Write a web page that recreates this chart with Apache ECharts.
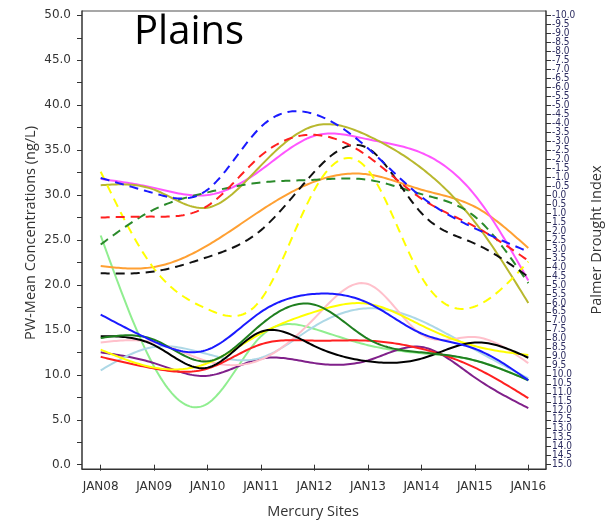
<!DOCTYPE html>
<html>
<head>
<meta charset="utf-8">
<script src="https://cdn.jsdelivr.net/npm/echarts@6/dist/echarts.min.js"></script>
<style>
  html, body { margin: 0; padding: 0; background: #ffffff; }
  #chart { width: 616px; height: 528px; }
</style>
</head>
<body>
<div id="chart"></div>
<script>
// Sampling dates
const sites = ['JAN08', 'JAN09', 'JAN10', 'JAN11', 'JAN12', 'JAN13', 'JAN14', 'JAN15', 'JAN16'];

// Dashed series
const blueDash   = [31.9, 30.2, 30.6, 37.6, 39.0, 35.2, 29.8, 26.3, 23.7];
const redDash    = [27.5, 27.6, 28.8, 34.4, 36.7, 34.3, 29.6, 26.5, 22.7];
const blackDash  = [21.3, 21.5, 23.1, 26.1, 32.6, 35.2, 28.0, 24.6, 20.9];
const greenDash  = [24.5, 28.4, 30.3, 31.4, 31.7, 31.7, 30.1, 27.6, 20.2];
const yellowDash = [32.6, 21.8, 17.3, 18.4, 30.6, 32.8, 20.9, 17.6, 22.6];

// Upper solid series
const olive   = [31.1, 30.6, 28.6, 33.3, 37.7, 36.6, 33.0, 27.0, 18.0];
const magenta = [31.8, 30.8, 30.0, 32.8, 36.6, 36.2, 34.7, 30.0, 20.5];
const orange  = [22.1, 22.0, 24.4, 28.3, 31.5, 32.3, 30.6, 28.7, 24.1];

// Lower solid series
const blue       = [16.7, 13.7, 12.8, 17.0, 19.0, 18.0, 14.6, 12.9, 9.4];
const green      = [14.1, 13.9, 11.5, 15.6, 17.8, 14.0, 12.5, 11.6, 9.4];
const black      = [14.3, 13.3, 10.8, 14.8, 13.2, 11.5, 11.8, 13.6, 11.9];
const yellow     = [12.8, 10.8, 11.3, 14.6, 17.0, 17.9, 15.5, 13.2, 12.2];
const red        = [12.0, 10.7, 10.7, 13.4, 13.8, 13.8, 12.9, 10.8, 7.4];
const pink       = [13.6, 13.6, 11.5, 11.7, 16.3, 20.1, 14.5, 14.2, 11.3];
const lightBlue  = [10.5, 13.1, 12.3, 11.9, 15.4, 17.4, 16.0, 12.8, 9.6];
const purple     = [12.5, 11.3, 9.9, 11.8, 11.3, 11.6, 13.1, 9.7, 6.3];
const lightGreen = [25.5, 10.9, 6.8, 14.3, 15.1, 13.3, 12.4, 11.6, 9.4];

// Left axis range
const leftTicks = { min: 0, max: 50, step: 5 };

// Palmer Drought Index tick labels, top to bottom
const pdsiLabels = [
  '-10.0', '-9.5', '-9.0', '-8.5', '-8.0', '-7.5', '-7.0', '-6.5', '-6.0', '-5.5',
  '-5.0', '-4.5', '-4.0', '-3.5', '-3.0', '-2.5', '-2.0', '-1.5', '-1.0', '-0.5',
  '0.0', '0.5', '1.0', '1.5', '2.0', '2.5', '3.0', '3.5', '4.0', '4.5',
  '5.0', '5.5', '6.0', '6.5', '7.0', '7.5', '8.0', '8.5', '9.0', '9.5',
  '10.0', '10.5', '11.0', '11.5', '12.0', '12.5', '13.0', '13.5', '14.0', '14.5', '15.0'
];

const lineDefs = [
  { name: 'Light green', data: lightGreen, color: '#90ee90', dash: false },
  { name: 'Purple', data: purple, color: '#80208a', dash: false },
  { name: 'Light blue', data: lightBlue, color: '#add8e6', dash: false },
  { name: 'Pink', data: pink, color: '#ffc0cb', dash: false },
  { name: 'Red', data: red, color: '#ff2020', dash: false },
  { name: 'Yellow', data: yellow, color: '#ffff00', dash: false },
  { name: 'Black', data: black, color: '#000000', dash: false },
  { name: 'Green', data: green, color: '#1f7f1f', dash: false },
  { name: 'Blue', data: blue, color: '#1a1aff', dash: false },
  { name: 'Orange', data: orange, color: '#ffa033', dash: false },
  { name: 'Magenta', data: magenta, color: '#ff55ff', dash: false },
  { name: 'Olive', data: olive, color: '#b8b82e', dash: false },
  { name: 'Yellow dashed', data: yellowDash, color: '#ffff00', dash: true },
  { name: 'Green dashed', data: greenDash, color: '#2a8a2a', dash: true },
  { name: 'Black dashed', data: blackDash, color: '#111111', dash: true },
  { name: 'Red dashed', data: redDash, color: '#ff2020', dash: true },
  { name: 'Blue dashed', data: blueDash, color: '#1a1aff', dash: true }
];

// Natural cubic spline through pixel points, sampled for drawing
function splinePath(pts, steps) {
  const n = pts.length;
  const h = [];
  for (let i = 0; i < n - 1; i++) h.push(pts[i + 1][0] - pts[i][0]);
  const M = new Array(n).fill(0);
  if (n > 2) {
    const a = [], b = [], c = [], r = [];
    for (let i = 1; i < n - 1; i++) {
      a.push(h[i - 1]);
      b.push(2 * (h[i - 1] + h[i]));
      c.push(h[i]);
      r.push(6 * ((pts[i + 1][1] - pts[i][1]) / h[i] - (pts[i][1] - pts[i - 1][1]) / h[i - 1]));
    }
    const m = b.length;
    for (let i = 1; i < m; i++) {
      const w = a[i] / b[i - 1];
      b[i] -= w * c[i - 1];
      r[i] -= w * r[i - 1];
    }
    const x = new Array(m);
    x[m - 1] = r[m - 1] / b[m - 1];
    for (let i = m - 2; i >= 0; i--) x[i] = (r[i] - c[i] * x[i + 1]) / b[i];
    for (let i = 0; i < m; i++) M[i + 1] = x[i];
  }
  const out = [pts[0].slice()];
  for (let i = 0; i < n - 1; i++) {
    const x0 = pts[i][0], y0 = pts[i][1], y1 = pts[i + 1][1], hi = h[i];
    for (let s = 1; s <= steps; s++) {
      const t = s / steps;
      const A = 1 - t, B = t;
      const yy = A * y0 + B * y1 + ((A * A * A - A) * M[i] + (B * B * B - B) * M[i + 1]) * hi * hi / 6;
      out.push([x0 + t * hi, yy]);
    }
  }
  return out;
}

const chart = echarts.init(document.getElementById('chart'), null, { renderer: 'canvas' });

const tickFont = 'DejaVu Sans';
const nameFont = '"Open Sans", "Noto Sans", sans-serif';

chart.setOption({
  animation: false,
  backgroundColor: '#ffffff',
  grid: { left: 100.7, right: 87.7, top: 15.3, bottom: 63.3, outerBoundsMode: 'none' },
  xAxis: {
    type: 'category',
    data: sites,
    boundaryGap: false,
    offset: 4.6,
    axisLine: { show: false },
    axisTick: { show: true, length: 6, alignWithLabel: true, lineStyle: { color: '#333', width: 1 } },
    axisLabel: { margin: 12, fontFamily: tickFont, fontSize: 12, color: '#333' },
    splitLine: { show: false }
  },
  yAxis: [
    {
      type: 'value',
      position: 'left',
      min: leftTicks.min, max: leftTicks.max, interval: leftTicks.step,
      offset: 18.7,
      axisLine: { show: false },
      axisTick: { show: true, length: 5, lineStyle: { color: '#333' } },
      minorTick: { show: true, splitNumber: 2, length: 5, lineStyle: { color: '#333' } },
      axisLabel: { margin: 11, fontFamily: tickFont, fontSize: 12, color: '#333',
        showMinLabel: true, showMaxLabel: true, formatter: v => v.toFixed(1) },
      splitLine: { show: false }
    },
    {
      type: 'category',
      position: 'right',
      data: pdsiLabels,
      inverse: true,
      boundaryGap: false,
      offset: 17.7,
      axisLine: { show: false },
      axisTick: { show: true, length: 5, interval: 0, alignWithLabel: true, lineStyle: { color: '#333' } },
      axisLabel: { margin: 6, interval: 0,
        fontFamily: '"DejaVu Sans Condensed", "DejaVu Sans"', fontSize: 10,
        color: '#2c2c60' },
      splitLine: { show: false }
    }
  ],
  graphic: [
    { type: 'line', shape: { x1: 82, y1: 11, x2: 546, y2: 11 }, style: { stroke: '#8a8a8a', lineWidth: 1.5 }, z: 100 },
    { type: 'line', shape: { x1: 82, y1: 10.5, x2: 82, y2: 469.3 }, style: { stroke: '#333', lineWidth: 1.5 }, z: 100 },
    { type: 'line', shape: { x1: 81.5, y1: 469.3, x2: 546.5, y2: 469.3 }, style: { stroke: '#333', lineWidth: 1.5 }, z: 100 },
    { type: 'line', shape: { x1: 546, y1: 10.5, x2: 546, y2: 469.3 }, style: { stroke: '#333', lineWidth: 1.5 }, z: 100 },
    { type: 'text', left: 134, top: 13, style: { text: 'Plains', font: '40px "Open Sans", sans-serif', fill: '#000' } },
    { type: 'text', x: 31, y: 233, rotation: Math.PI / 2,
      style: { text: 'PW-Mean Concentrations (ng/L)', font: '14.5px ' + nameFont, fill: '#333',
        align: 'center', verticalAlign: 'middle' } },
    { type: 'text', x: 597, y: 240, rotation: Math.PI / 2,
      style: { text: 'Palmer Drought Index', font: '14.5px ' + nameFont, fill: '#333',
        align: 'center', verticalAlign: 'middle' } },
    { type: 'text', x: 313, y: 511.7,
      style: { text: 'Mercury Sites', font: '14.5px ' + nameFont, fill: '#333',
        align: 'center', verticalAlign: 'middle' } }
  ],
  series: lineDefs.map(d => ({
    name: d.name,
    type: 'custom',
    coordinateSystem: 'cartesian2d',
    yAxisIndex: 0,
    data: d.data.map((v, i) => [i, v]),
    encode: { x: 0, y: 1 },
    renderItem: (params, api) => {
      if (params.dataIndex !== 0) return null;
      const pts = d.data.map((v, i) => api.coord([i, v]));
      return {
        type: 'polyline',
        shape: { points: splinePath(pts, 24) },
        style: { stroke: d.color, lineWidth: 2, fill: null, lineDash: d.dash ? [9, 6] : null }
      };
    }
  }))
});
</script>
</body>
</html>
